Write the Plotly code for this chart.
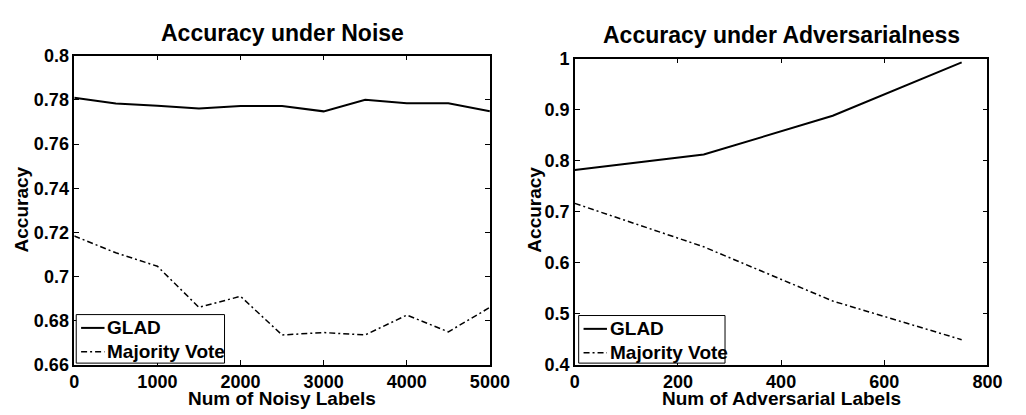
import plotly.graph_objects as go

# ---- data ----
noise_x = [0, 500, 1000, 1500, 2000, 2500, 3000, 3500, 4000, 4500, 5000]
noise_glad = [0.7810, 0.7784, 0.7774, 0.7761, 0.7772, 0.7772, 0.7748, 0.7800, 0.7785, 0.7785, 0.7748]
noise_mv = [0.7184, 0.7108, 0.7047, 0.6861, 0.6911, 0.6736, 0.6747, 0.6736, 0.6826, 0.6750, 0.6861]

adv_x = [0, 250, 500, 750]
adv_glad = [0.7816, 0.8120, 0.8880, 0.9926]
adv_mv = [0.7164, 0.6314, 0.5253, 0.4496]

noise_xticks = [0, 1000, 2000, 3000, 4000, 5000]
noise_yticks = [0.66, 0.68, 0.70, 0.72, 0.74, 0.76, 0.78, 0.80]
noise_yticktext = ["0.66", "0.68", "0.7", "0.72", "0.74", "0.76", "0.78", "0.8"]
adv_xticks = [0, 200, 400, 600, 800]
adv_yticks = [0.4, 0.5, 0.6, 0.7, 0.8, 0.9, 1.0]
adv_yticktext = ["0.4", "0.5", "0.6", "0.7", "0.8", "0.9", "1"]

series_names = ["GLAD", "Majority Vote"]
titles = ["Accuracy under Noise", "Accuracy under Adversarialness"]
xtitles = ["Num of Noisy Labels", "Num of Adversarial Labels"]
ytitle = "Accuracy"

W, H = 1026, 415
FONT = "Liberation Sans, Arial, Helvetica, sans-serif"
MV_DASH = "6px,3px,2px,3px"
series_styles = [dict(color="black", width=2), dict(color="black", width=1.5, dash=MV_DASH)]

fig = go.Figure()

fig.add_trace(go.Scatter(x=noise_x, y=noise_glad, mode="lines", name=series_names[0],
                         line=series_styles[0], xaxis="x", yaxis="y"))
fig.add_trace(go.Scatter(x=noise_x, y=noise_mv, mode="lines", name=series_names[1],
                         line=series_styles[1], xaxis="x", yaxis="y"))
fig.add_trace(go.Scatter(x=adv_x, y=adv_glad, mode="lines", name=series_names[0],
                         line=series_styles[0], xaxis="x2", yaxis="y2"))
fig.add_trace(go.Scatter(x=adv_x, y=adv_mv, mode="lines", name=series_names[1],
                         line=series_styles[1], xaxis="x2", yaxis="y2"))

# pixel geometry of the two plot areas
L1, R1, T1, B1 = 71, 497, 48, 373
L2, R2, T2, B2 = 584, 1007, 51, 373

def px(xp):
    return xp / W

def py(yp):
    return 1 - yp / H

tickfont = dict(family=FONT, size=18, color="black", weight="bold")

axis_common = dict(showline=True, linecolor="black", linewidth=1.5, mirror="allticks",
                   ticks="inside", ticklen=5, tickcolor="black", tickwidth=1,
                   showgrid=False, zeroline=False, tickfont=tickfont)

fig.update_layout(
    width=W, height=H,
    margin=dict(l=0, r=0, t=0, b=0),
    paper_bgcolor="white", plot_bgcolor="white",
    showlegend=False,
    xaxis=dict(domain=[px(L1), px(R1)], anchor="y", range=[0, 5000],
               tickvals=noise_xticks, ticklabelstandoff=0, **axis_common),
    yaxis=dict(domain=[py(B1), py(T1)], anchor="x", range=[0.66, 0.80],
               tickvals=noise_yticks, ticktext=noise_yticktext, **axis_common),
    xaxis2=dict(domain=[px(L2), px(R2)], anchor="y2", range=[0, 800],
                tickvals=adv_xticks, ticklabelstandoff=0, **axis_common),
    yaxis2=dict(domain=[py(B2), py(T2)], anchor="x2", range=[0.4, 1.0],
                tickvals=adv_yticks, ticktext=adv_yticktext, **axis_common),
)

ann = []
shapes = []
title_font = dict(family=FONT, size=23, color="black", weight="bold")
label_font = dict(family=FONT, size=19, color="black", weight="bold")
legend_font = dict(family=FONT, size=19, color="black", weight="bold")

for (L, R, T), t in zip([(L1, R1, 24), (L2, R2, 26)], titles):
    ann.append(dict(text=t, x=px((L + R) / 2), y=py(T), xref="paper", yref="paper",
                    xanchor="center", yanchor="middle", showarrow=False, font=title_font))
for (L, R), t in zip([(L1, R1), (L2, R2)], xtitles):
    ann.append(dict(text=t, x=px((L + R) / 2), y=py(408), xref="paper", yref="paper",
                    xanchor="center", yanchor="middle", showarrow=False, font=label_font))
for xc in [17, 543]:
    ann.append(dict(text=ytitle, x=px(xc), y=py(210), xref="paper", yref="paper",
                    xanchor="center", yanchor="middle", showarrow=False, font=label_font,
                    textangle=-90))

# legend boxes (bottom-left inside each panel)
for (bx0, by0, bx1, by1) in [(73, 320, 225, 371), (588, 321, 738, 371)]:
    shapes.append(dict(type="rect", xref="paper", yref="paper",
                       x0=px(bx0), x1=px(bx1), y0=py(by1), y1=py(by0),
                       line=dict(color="black", width=1), fillcolor="white", layer="above"))
    for i, (name, style) in enumerate(zip(series_names, series_styles)):
        yc = by0 + 14 + 25 * i
        shapes.append(dict(type="line", xref="paper", yref="paper",
                           x0=px(bx0 + 5), x1=px(bx0 + 29), y0=py(yc), y1=py(yc),
                           line=dict(color=style["color"], width=style["width"],
                                     dash=style.get("dash", "solid")), layer="above"))
        ann.append(dict(text=name, x=px(bx0 + 30), y=py(yc), xref="paper", yref="paper",
                        xanchor="left", yanchor="middle", showarrow=False, font=legend_font))

fig.update_layout(annotations=ann, shapes=shapes)

fig.write_html("out.html", config={"displayModeBar": False},
               post_script="document.body.style.margin='0';document.body.style.overflow='hidden';")
